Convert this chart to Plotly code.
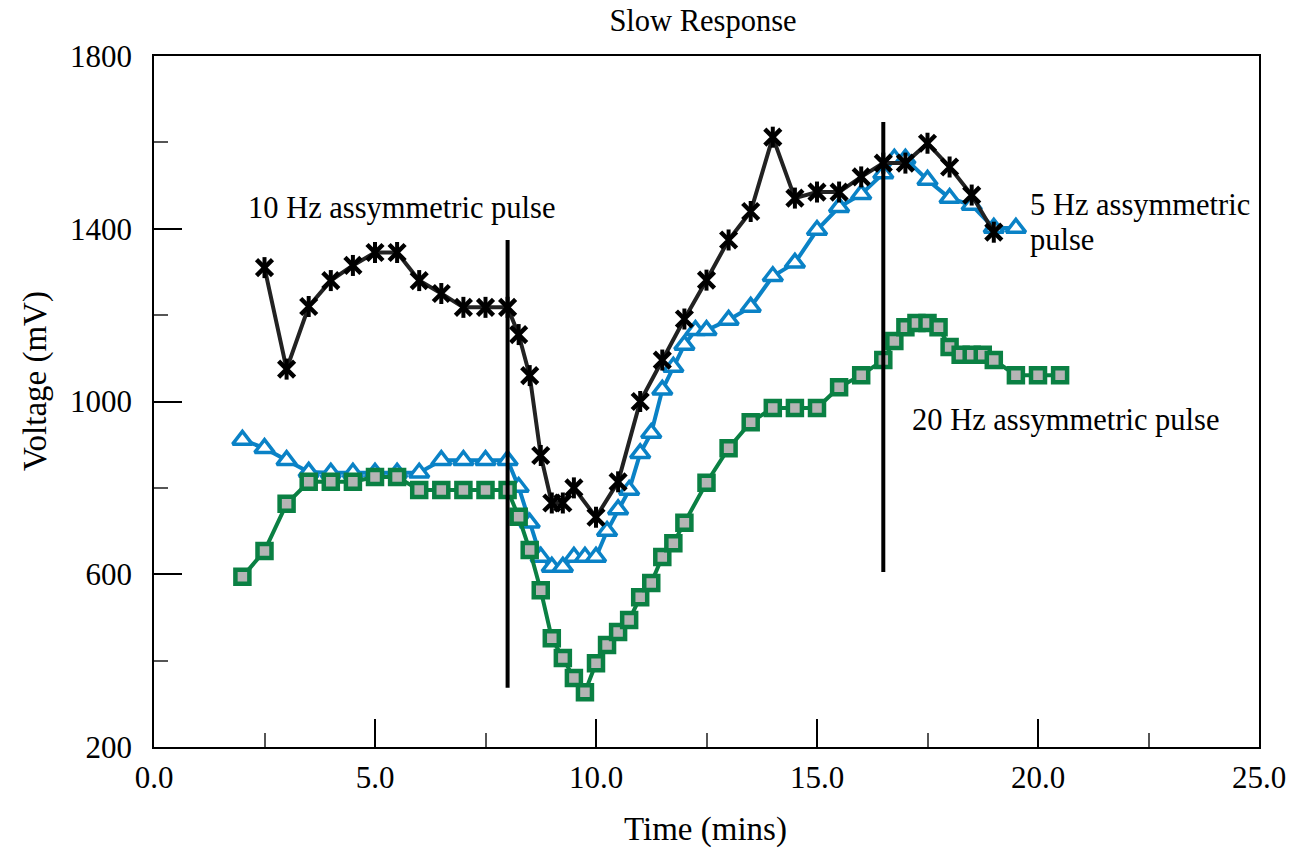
import plotly.graph_objects as go

# ---- data ----
black_x = [2.5, 3.0, 3.5, 4.0, 4.5, 5.0, 5.5, 6.0, 6.5, 7.0, 7.5, 8.0, 8.25, 8.5, 8.75, 9.0, 9.25, 9.5,
           10.0, 10.5, 11.0, 11.5, 12.0, 12.5, 13.0, 13.5, 14.0, 14.5, 15.0, 15.5, 16.0, 16.5, 17.0,
           17.5, 18.0, 18.5, 19.0]
black_y = [1310, 1075, 1220, 1280, 1315, 1345, 1345, 1280, 1250, 1218, 1218, 1218, 1155, 1060, 875, 765,
           765, 800, 732, 814, 1000, 1096, 1191, 1281, 1374, 1440, 1612, 1471, 1485, 1485, 1520, 1552,
           1552, 1598, 1543, 1478, 1392]

blue_x = [2.0, 2.5, 3.0, 3.5, 4.0, 4.5, 5.0, 5.5, 6.0, 6.5, 7.0, 7.5, 8.0, 8.25, 8.5, 8.75, 9.0, 9.25,
          9.5, 9.75, 10.0, 10.25, 10.5, 10.75, 11.0, 11.25, 11.5, 11.75, 12.0, 12.25, 12.5, 13.0, 13.5,
          14.0, 14.5, 15.0, 15.5, 16.0, 16.5, 16.75, 17.0, 17.5, 18.0, 18.5, 19.0, 19.5]
blue_y = [911, 892, 864, 837, 835, 835, 835, 835, 835, 864, 864, 864, 864, 802, 719, 640, 617, 617,
          640, 640, 640, 700, 750, 795, 880, 927, 1027, 1080, 1131, 1165, 1165, 1189, 1219,
          1290, 1321, 1397, 1450, 1480, 1528, 1562, 1562, 1513, 1471, 1455, 1402, 1402]

green_x = [2.0, 2.5, 3.0, 3.5, 4.0, 4.5, 5.0, 5.5, 6.0, 6.5, 7.0, 7.5, 8.0, 8.25, 8.5, 8.75, 9.0, 9.25,
           9.5, 9.75, 10.0, 10.25, 10.5, 10.75, 11.0, 11.25, 11.5, 11.75, 12.0, 12.5, 13.0, 13.5, 14.0,
           14.5, 15.0, 15.5, 16.0, 16.5, 16.75, 17.0, 17.25, 17.5, 17.75, 18.0, 18.25, 18.5, 18.75,
           19.0, 19.5, 20.0, 20.5]
green_y = [594, 654, 763, 814, 814, 814, 825, 825, 795, 795, 795, 795, 795, 733, 656, 563, 452, 406,
           360, 327, 394, 436, 466, 494, 547, 580, 640, 672, 719, 812, 892, 952, 985,
           985, 985, 1033, 1061, 1096, 1140, 1172, 1182, 1182, 1172, 1126, 1108, 1108, 1108,
           1096, 1061, 1061, 1061]

pulse_x = [8.0, 16.5]
pulse_bottom = [337, 605]
pulse_top = [1374, 1647]

x_ticks = [0, 5, 10, 15, 20, 25]
y_ticks = [200, 600, 1000, 1400, 1800]

FONT = "Liberation Serif, Times New Roman, serif"
BLACK_LINE = "#222222"
BLUE = "#0a82c6"
GREEN = "#0a8043"
GRAY_FILL = "#b5b5b5"

L, R, T, B = 154, 32, 56, 104
W, H = 1291, 851
pw = W - L - R
ph = H - T - B


def px_to_paper(xp, yp):
    return (xp - L) / pw, (H - B - yp) / ph


fig = go.Figure()

fig.add_trace(go.Scatter(
    x=blue_x, y=blue_y, mode="lines+markers",
    line=dict(color=BLUE, width=4),
    marker=dict(symbol="triangle-up", size=17, color="white", line=dict(color=BLUE, width=3.5)),
    showlegend=False, hoverinfo="skip"))

fig.add_trace(go.Scatter(
    x=green_x, y=green_y, mode="lines+markers",
    line=dict(color=GREEN, width=4),
    marker=dict(symbol="square", size=14, color=GRAY_FILL, line=dict(color=GREEN, width=4.5)),
    showlegend=False, hoverinfo="skip"))

fig.add_trace(go.Scatter(
    x=black_x, y=black_y, mode="lines+markers",
    line=dict(color=BLACK_LINE, width=4),
    marker=dict(symbol="x-thin-open", size=16, color="black", line=dict(color="black", width=4.5)),
    showlegend=False, hoverinfo="skip"))
fig.add_trace(go.Scatter(
    x=black_x, y=black_y, mode="markers",
    marker=dict(symbol="line-ns-open", size=15, color="black", line=dict(color="black", width=4)),
    showlegend=False, hoverinfo="skip"))

for px, pb, pt in zip(pulse_x, pulse_bottom, pulse_top):
    fig.add_trace(go.Scatter(
        x=[px, px], y=[pb, pt], mode="lines",
        line=dict(color="black", width=4),
        showlegend=False, hoverinfo="skip"))

ann_font = dict(family=FONT, size=30.5, color="black")
fig.add_annotation(x=5.6, y=1448, text="10 Hz assymmetric pulse", showarrow=False,
                   xanchor="center", yanchor="middle", font=ann_font)
fig.add_annotation(x=19.78, y=1455, text="5 Hz assymmetric", showarrow=False,
                   xanchor="left", yanchor="middle", font=ann_font)
fig.add_annotation(x=19.78, y=1374, text="pulse", showarrow=False,
                   xanchor="left", yanchor="middle", font=ann_font)
fig.add_annotation(x=17.1, y=957, text="20 Hz assymmetric pulse", showarrow=False,
                   xanchor="left", yanchor="middle", font=ann_font)

# axis titles as text placed at pixel positions
ax_, ay_ = px_to_paper(35, 381)
fig.add_annotation(x=ax_, y=ay_, xref="paper", yref="paper",
                   xanchor="center", yanchor="middle", text="Voltage (mV)", textangle=-90,
                   showarrow=False, font=dict(family=FONT, size=33, color="black"))
bx_, by_ = px_to_paper(705, 830)
fig.add_annotation(x=bx_, y=by_, xref="paper", yref="paper",
                   xanchor="center", yanchor="middle", text="Time (mins)",
                   showarrow=False, font=dict(family=FONT, size=33, color="black"))

axis_common = dict(
    showgrid=False, zeroline=False, showline=True, linecolor="black", linewidth=1.5,
    mirror=True, ticks="inside", ticklen=28, tickwidth=1.5, tickcolor="black",
    tickfont=dict(family=FONT, size=31, color="black"), automargin=False,
)

fig.update_xaxes(
    range=[0, 25], tickvals=x_ticks, tickformat=".1f", ticklabelstandoff=2,
    minor=dict(ticks="inside", ticklen=14, tickwidth=1.5, tickcolor="#555555", dtick=2.5, tick0=0),
    **axis_common)
fig.update_yaxes(
    range=[200, 1800], tickvals=y_ticks, ticklabelstandoff=14,
    minor=dict(ticks="inside", ticklen=14, tickwidth=1.5, tickcolor="#555555", dtick=200, tick0=200),
    **axis_common)

fig.update_layout(
    width=W, height=H,
    margin=dict(l=L, r=R, t=T, b=B),
    paper_bgcolor="white", plot_bgcolor="white",
    title=dict(text="Slow Response", font=dict(family=FONT, size=30.5, color="black"),
               x=703 / W, xanchor="center", y=1 - 20 / H, yanchor="middle", yref="container"),
    showlegend=False,
)

fig.write_html("out.html")
